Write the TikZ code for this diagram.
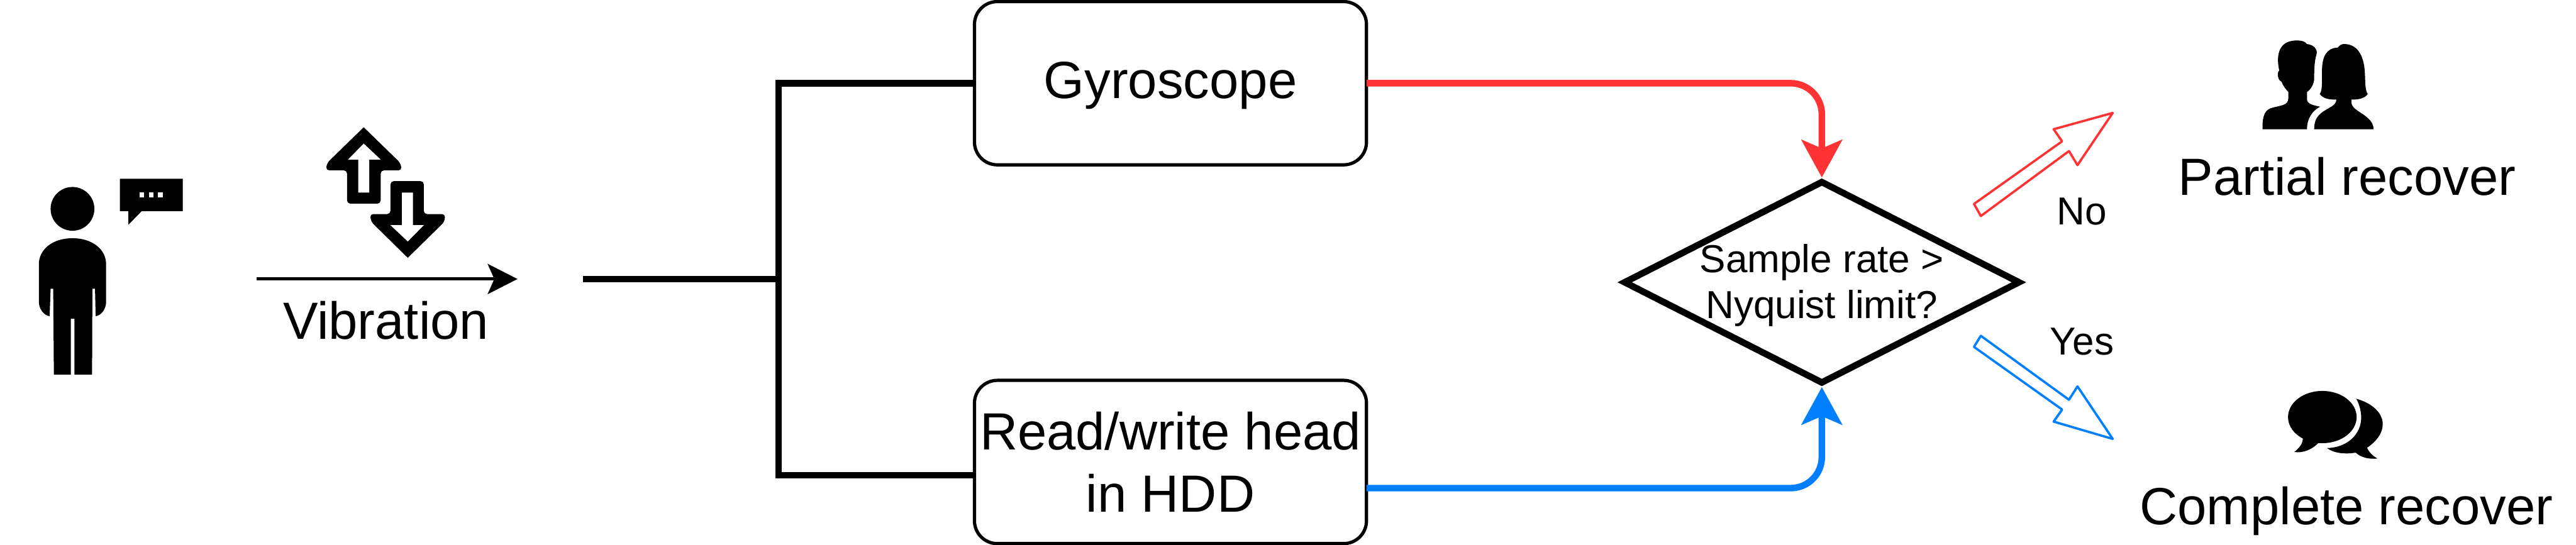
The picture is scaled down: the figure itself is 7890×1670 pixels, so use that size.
\documentclass[tikz,border=0pt]{standalone}
\usepackage{fontspec}
\setmainfont{Liberation Sans}
\usepackage{tikz}
\usetikzlibrary{arrows.meta,positioning,calc,shapes.geometric}
\definecolor{nored}{HTML}{FF3333}
\definecolor{yesblue}{HTML}{007FFF}

\begin{document}
\begin{tikzpicture}[
    x=0.01cm, y=-0.01cm,
    node distance=6.6cm,
    sensor/.style={rectangle, rounded corners=0.7cm, draw=black, line width=0.1cm, minimum width=12cm, minimum height=5cm, outer sep=0pt, inner sep=0pt, align=center, font=\fontsize{45.6}{54.6}\selectfont},
    decision/.style={diamond, draw=black, line width=0.2cm, minimum width=12.15cm, minimum height=6.22cm, inner sep=0pt},
    biglabel/.style={inner sep=0pt, anchor=base, font=\fontsize{45.6}{54.6}\selectfont},
    smalllabel/.style={inner sep=0pt, anchor=base, font=\fontsize{34}{39.8}\selectfont},
    bus/.style={line width=0.2cm},
    arr/.style={-{Stealth[length=1.15cm, width=1.24cm, inset=0.26cm]}, line width=0.2cm, rounded corners=0.95cm},
    hollow/.style={draw=#1, fill=white, line width=0.07cm, line join=round}
]
    \useasboundingbox (0,0) rectangle (7890,1670);

    \fill (222,640) circle [radius=0.67cm];
    \fill (119,810) .. controls (119,765) and (160,730) .. (222,730) .. controls (284,730) and (325,765) .. (325,810)
        -- (325,925) .. controls (325,945) and (312,966) .. (293,969) -- (291,885) -- (283,885) -- (282,1148) -- (228,1148)
        -- (228,977) -- (217,977) -- (217,1148) -- (165,1148) -- (163,885) -- (155,885) -- (152,969)
        .. controls (133,966) and (119,945) .. (119,925) -- cycle;
    \fill (367,548) -- (560,548) -- (560,647) -- (434,647) -- (393,689) -- (393,647) -- (367,647) -- cycle;
    \foreach \dotx in {434,463,491}
        \fill[white] (\dotx-7,590) rectangle (\dotx+7,604);

    \fill[rounded corners=0.1cm] (1114,390) -- (1226,499) -- (1231,522) -- (1166,522) -- (1166,624) -- (1063,624) -- (1063,522) -- (998,522) -- (1002,499) -- (1114,390);
    \fill[white] (1114,440) -- (1166,489) -- (1131,489) -- (1131,590) -- (1097,590) -- (1097,489) -- (1066,489) -- cycle;
    \fill[rounded corners=0.1cm] (1249,790) -- (1361,680) -- (1364,656) -- (1298,656) -- (1298,555) -- (1196,555) -- (1196,656) -- (1133,656) -- (1137,680) -- (1249,790);
    \fill[white] (1249,740) -- (1298,690) -- (1265,690) -- (1265,590) -- (1231,590) -- (1231,690) -- (1196,690) -- cycle;

    \coordinate (vibstart) at (785,855);
    \coordinate (vibend) at (1585,855);
    \draw[-{Stealth[length=0.91cm, width=0.92cm, inset=0.2cm]}, line width=0.1cm] (vibstart) -- (vibend);
    \node[biglabel] (vibration) at (1182,1039) {Vibration};

    \node[sensor, text height=1.25cm, text depth=0.33cm] (gyro) at (3585,255) {Gyroscope};
    \node[sensor, below=of gyro] (hdd) {Read/write head\\in HDD};
    \node[decision] (check) at (5580,865) {};
    \node[smalllabel, anchor=center, align=center, yshift=-0.1cm] (checktext) at (check.center) {Sample rate >\\Nyquist limit?};

    \coordinate (source) at (1785,855);
    \coordinate (split) at (2385,855);
    \coordinate (hddin) at ([yshift=-0.4cm]hdd.west);
    \coordinate (hddout) at ([yshift=-0.8cm]hdd.east);
    \draw[bus] (source) -- (split);
    \draw[bus] (gyro.west) -| (split);
    \draw[bus] (hddin) -| (split);
    \draw[arr, nored] (gyro.east) -| (check.north);
    \draw[arr, yesblue] (hddout) -| (check.south);

    \draw[hollow=nored] (6046,625) -- (6067,662) -- (6337,463) -- (6363,506) -- (6471,346) -- (6290,396) -- (6316,433) -- cycle;
    \draw[hollow=yesblue] (6046,1063) -- (6067,1029) -- (6337,1225) -- (6363,1184) -- (6471,1345) -- (6290,1292) -- (6316,1255) -- cycle;
    \node[smalllabel] (no) at (6377,689) {No};
    \node[smalllabel] (yes) at (6377,1088) {Yes};

    \fill (6930,396) -- (6930,377) .. controls (6932,350) and (6940,338) .. (6954,332) .. controls (6985,322) and (7009,325) .. (7009,300) -- (7009,282)
        .. controls (7000,272) and (6992,262) .. (6988,250) .. controls (6978,248) and (6972,224) .. (6981,216) .. controls (6973,180) and (6972,124) .. (7035,124)
        .. controls (7050,124) and (7060,127) .. (7066,135) .. controls (7085,137) and (7100,150) .. (7095,167) .. controls (7088,190) and (7088,220) .. (7088,240)
        .. controls (7088,255) and (7080,272) .. (7066,282) -- (7066,305) .. controls (7066,320) and (7090,323) .. (7106,327) .. controls (7085,338) and (7066,360) .. (7066,396) -- cycle;
    \fill (7088,396) .. controls (7088,355) and (7110,345) .. (7135,330) .. controls (7150,322) and (7156,315) .. (7156,305) .. controls (7135,306) and (7115,302) .. (7105,288)
        .. controls (7113,278) and (7112,255) .. (7112,217) .. controls (7112,175) and (7125,147) .. (7160,146) .. controls (7168,137) and (7172,135) .. (7180,135)
        .. controls (7220,135) and (7240,170) .. (7243,220) .. controls (7245,250) and (7243,275) .. (7252,288) .. controls (7245,300) and (7225,306) .. (7202,305) -- (7202,315)
        .. controls (7204,335) and (7235,345) .. (7250,360) .. controls (7265,372) and (7270,385) .. (7270,396) -- cycle;
    \node[biglabel] (partial) at (7189,598) {Partial recover};

    \fill (7217,1222) .. controls (7265,1235) and (7298,1265) .. (7298,1300) .. controls (7298,1330) and (7275,1355) .. (7250,1372) .. controls (7255,1385) and (7268,1398) .. (7282,1405)
        .. controls (7255,1408) and (7232,1402) .. (7215,1387) .. controls (7185,1392) and (7150,1390) .. (7127,1373) .. controls (7190,1372) and (7232,1330) .. (7232,1280)
        .. controls (7232,1260) and (7226,1238) .. (7217,1222) -- cycle;
    \fill (7113,1278) ellipse [x radius=1.05cm, y radius=0.8cm];
    \fill (7053,1340) .. controls (7055,1360) and (7040,1375) .. (7027,1385) .. controls (7055,1390) and (7085,1375) .. (7102,1356) -- cycle;
    \node[biglabel] (complete) at (7187,1608) {Complete recover};
\end{tikzpicture}
\end{document}
